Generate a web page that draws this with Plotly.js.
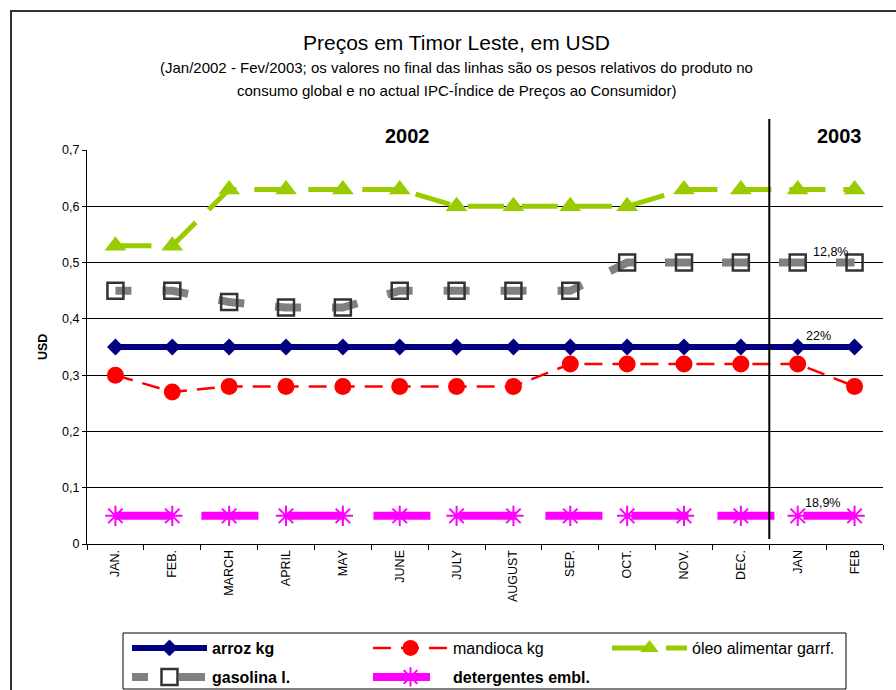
<!DOCTYPE html>
<html>
<head>
<meta charset="utf-8">
<script src="https://cdn.plot.ly/plotly-3.0.1.min.js"></script>
<style>html,body{margin:0;padding:0;background:#fff;}#chart{width:896px;height:690px;}</style>
</head>
<body>
<div id="chart"></div>
<script>
var months = ['JAN.','FEB.','MARCH','APRIL','MAY','JUNE','JULY','AUGUST','SEP.','OCT.','NOV.','DEC.','JAN','FEB'];
var arroz = [0.35,0.35,0.35,0.35,0.35,0.35,0.35,0.35,0.35,0.35,0.35,0.35,0.35,0.35];
var mandioca = [0.30,0.27,0.28,0.28,0.28,0.28,0.28,0.28,0.32,0.32,0.32,0.32,0.32,0.28];
var oleo = [0.53,0.53,0.63,0.63,0.63,0.63,0.60,0.60,0.60,0.60,0.63,0.63,0.63,0.63];
var gasolina = [0.45,0.45,0.43,0.42,0.42,0.45,0.45,0.45,0.45,0.50,0.50,0.50,0.50,0.50];
var detergentes = [0.05,0.05,0.05,0.05,0.05,0.05,0.05,0.05,0.05,0.05,0.05,0.05,0.05,0.05];
var seriesNames = ['<b>arroz kg</b>','mandioca kg','óleo alimentar garrf.','<b>gasolina l.</b>','<b>detergentes embl.</b>'];
var weightLabels = ['22%','12,8%','18,9%'];
var yearLabels = ['2002','2003'];

var FONT = 'Liberation Sans, Arial, sans-serif';
// pixel helpers (plot area: x 87..883, y 150..544)
var L = 87, R = 13, T = 150, B = 146, W = 896 - L - R, H = 690 - T - B;
function px(x){ return (x - L) / W; }
function py(y){ return (690 - B - y) / H; }

var traces = [
  {x: months, y: arroz, name: seriesNames[0], type: 'scatter', mode: 'lines+markers', legend: 'legend',
   line: {color: '#000080', width: 6}, marker: {symbol: 'diamond', size: 13, color: '#000080'}},
  {x: months, y: mandioca, name: seriesNames[1], type: 'scatter', mode: 'lines+markers', legend: 'legend2',
   line: {color: '#ff0000', width: 2.5, dash: '18px,10px'}, marker: {symbol: 'circle', size: 17, color: '#ff0000'}},
  {x: months, y: oleo, name: seriesNames[2], type: 'scatter', mode: 'lines+markers', legend: 'legend3',
   line: {color: '#99cc00', width: 5, dash: '36px,18px'}, marker: {symbol: 'triangle-up', size: 19, color: '#99cc00'}},
  {x: months, y: gasolina, name: seriesNames[3], type: 'scatter', mode: 'lines+markers', legend: 'legend4',
   line: {color: '#808080', width: 8, dash: '16px,31px,10px,0px'},
   marker: {symbol: 'square-open', size: 16, color: '#333333', line: {width: 2.5, color: '#333333'}}},
  {x: months, y: detergentes, name: seriesNames[4], type: 'scatter', mode: 'lines+markers', legend: 'legend5',
   line: {color: '#ff00ff', width: 8, dash: '57px,29px'},
   marker: {symbol: 'asterisk-open', size: 17, color: '#ff00ff', line: {width: 2, color: '#ff00ff'}}}
];

function leg(xpx, ypx){
  return {x: px(xpx), y: py(ypx), xref: 'paper', yref: 'paper', xanchor: 'left', yanchor: 'middle',
          bgcolor: 'rgba(0,0,0,0)', borderwidth: 0, itemwidth: 75,
          font: {family: FONT, size: 16, color: '#000'}};
}

var layout = {
  width: 896, height: 690,
  margin: {l: L, r: R, t: T, b: B, pad: 0, autoexpand: false},
  paper_bgcolor: '#fff', plot_bgcolor: '#fff',
  separators: ',.',
  font: {family: FONT, color: '#000'},
  showlegend: true,
  legend: leg(127, 648),
  legend2: leg(368, 648),
  legend3: leg(607, 648),
  legend4: leg(127, 677),
  legend5: leg(368, 677),
  xaxis: {type: 'category', categoryorder: 'array', categoryarray: months, range: [-0.5, 13.5],
          showline: true, linecolor: '#000', linewidth: 1, showgrid: false, zeroline: false,
          ticks: 'outside', ticklen: 5, tickcolor: '#000', tickson: 'boundaries',
          tickangle: -90, tickfont: {family: FONT, size: 12.5, color: '#000'}, automargin: false},
  yaxis: {range: [0, 0.7], dtick: 0.1, tick0: 0, showline: true, linecolor: '#000', linewidth: 1,
          showgrid: true, gridcolor: '#000', gridwidth: 1, zeroline: false,
          ticks: 'outside', ticklen: 4, tickcolor: '#000',
          tickfont: {family: FONT, size: 12.5, color: '#000'}, automargin: false},
  shapes: [
    {type: 'rect', xref: 'paper', yref: 'paper', x0: px(11), x1: px(905), y0: py(705), y1: py(11),
     line: {color: '#333', width: 2}, fillcolor: 'rgba(0,0,0,0)', layer: 'below'},
    {type: 'line', xref: 'x', yref: 'paper', x0: 11.5, x1: 11.5, y0: py(539), y1: py(119),
     line: {color: '#000', width: 2}},
    {type: 'rect', xref: 'paper', yref: 'paper', x0: px(123), x1: px(846), y0: py(689), y1: py(633),
     line: {color: '#000', width: 1}, fillcolor: 'rgba(0,0,0,0)'}
  ],
  annotations: [
    {text: 'Preços em Timor Leste, em USD', xref: 'paper', yref: 'paper', x: px(456), y: py(43),
     showarrow: false, font: {family: FONT, size: 21, color: '#000'}, xanchor: 'center', yanchor: 'middle'},
    {text: '(Jan/2002 - Fev/2003; os valores no final das linhas são os pesos relativos do produto no',
     xref: 'paper', yref: 'paper', x: px(456), y: py(68), showarrow: false,
     font: {family: FONT, size: 15, color: '#000'}, xanchor: 'center', yanchor: 'middle'},
    {text: 'consumo global e no actual IPC-Índice de Preços ao Consumidor)',
     xref: 'paper', yref: 'paper', x: px(456), y: py(90), showarrow: false,
     font: {family: FONT, size: 15, color: '#000'}, xanchor: 'center', yanchor: 'middle'},
    {text: '<b>' + yearLabels[0] + '</b>', xref: 'paper', yref: 'paper', x: px(407), y: py(136), showarrow: false,
     font: {family: FONT, size: 20, color: '#000'}, xanchor: 'center', yanchor: 'middle'},
    {text: '<b>' + yearLabels[1] + '</b>', xref: 'paper', yref: 'paper', x: px(839), y: py(136), showarrow: false,
     font: {family: FONT, size: 20, color: '#000'}, xanchor: 'center', yanchor: 'middle'},
    {text: '<b>USD</b>', xref: 'paper', yref: 'paper', x: px(43), y: py(347), showarrow: false, textangle: -90,
     font: {family: FONT, size: 12.5, color: '#000'}, xanchor: 'center', yanchor: 'middle'},
    {text: weightLabels[0], xref: 'x', yref: 'y', x: 12.36, y: 0.37, showarrow: false,
     font: {family: FONT, size: 12.5, color: '#000'}, xanchor: 'center', yanchor: 'middle'},
    {text: weightLabels[1], xref: 'x', yref: 'y', x: 12.57, y: 0.519, showarrow: false,
     font: {family: FONT, size: 12.5, color: '#000'}, xanchor: 'center', yanchor: 'middle'},
    {text: weightLabels[2], xref: 'x', yref: 'y', x: 12.44, y: 0.073, showarrow: false,
     font: {family: FONT, size: 12.5, color: '#000'}, xanchor: 'center', yanchor: 'middle'}
  ]
};

Plotly.newPlot('chart', traces, layout, {displayModeBar: false, staticPlot: true});
</script>
</body>
</html>
